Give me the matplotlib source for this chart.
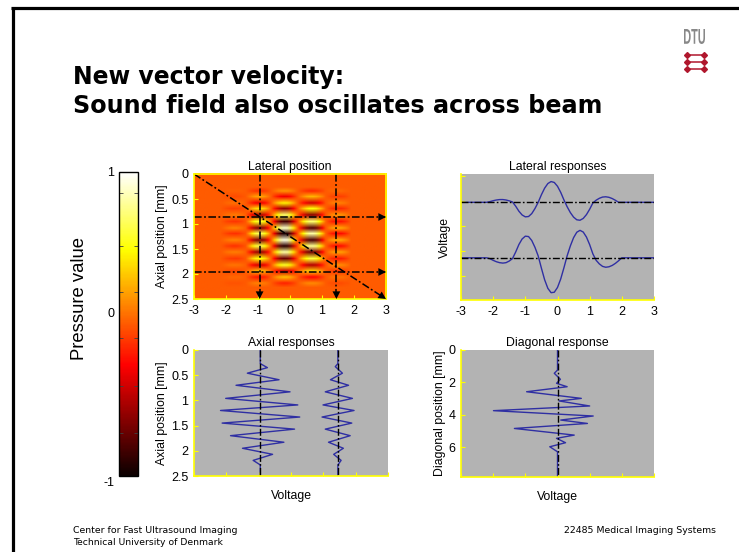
import numpy as np
import matplotlib
matplotlib.use("Agg")
import matplotlib.pyplot as plt
from matplotlib.lines import Line2D
from matplotlib.cm import ScalarMappable
from matplotlib.colors import Normalize
from matplotlib.image import NonUniformImage
from matplotlib.textpath import TextPath
from matplotlib.patches import PathPatch
from matplotlib.font_manager import FontProperties
from matplotlib.transforms import Affine2D

W, H, DPI = 739, 552, 100
plt.rcParams["font.family"] = ["Liberation Sans", "DejaVu Sans"]
plt.rcParams["axes.unicode_minus"] = False

# ---------------- data ----------------
lateral_x = np.round(np.arange(-3.0, 3.001, 0.1), 2)
lateral_top = [0, 0, 0, 0, 0, 0, 0, 0, 0,
               0.025, 0.058, 0.083, 0.098, 0.099, 0.083, 0.053, 0.013, -0.14, -0.321,
               -0.456, -0.524, -0.512, -0.406, -0.224, 0.0, 0.274, 0.51, 0.676, 0.748,
               0.715, 0.578, 0.358, 0.086, -0.161, -0.371, -0.534, -0.63, -0.646, -0.581,
               -0.443, -0.249, -0.023, 0.075, 0.144, 0.189, 0.199, 0.18, 0.136, 0.073, 0.0,
               0, 0, 0, 0, 0, 0, 0, 0, 0, 0, 0]
lateral_bottom = [0, 0, 0, 0, 0, 0, 0, 0, 0,
                  -0.032, -0.091, -0.141, -0.175, -0.19, -0.175, -0.116, -0.029, 0.209, 0.479,
                  0.679, 0.78, 0.766, 0.623, 0.376, 0.066, -0.374, -0.791, -1.1, -1.256,
                  -1.241, -1.068, -0.762, -0.358, 0.074, 0.43, 0.726, 0.922, 0.99, 0.928,
                  0.748, 0.474, 0.141, -0.088, -0.219, -0.308, -0.34, -0.323, -0.275, -0.2, -0.105,
                  0, 0, 0, 0, 0, 0, 0, 0, 0, 0, 0]
lateral_offsets = [1.0, -1.0]
lateral_yticks = [1.944, 1.047, 0.149, -0.749, -1.647]

axial_left_z = [0.0, 0.27, 0.35, 0.46, 0.59, 0.70, 0.83, 0.96, 1.09, 1.20, 1.33, 1.45,
                1.57, 1.70, 1.83, 1.95, 2.07, 2.19, 2.28, 2.5]
axial_left_v = [0, 0, 0.22, -0.40, 0.58, -0.75, 0.92, -1.07, 1.16, -1.23, 1.22, -1.18,
                1.06, -0.92, 0.73, -0.55, 0.38, -0.22, 0, 0]
axial_right_z = [0.0, 0.27, 0.33, 0.46, 0.59, 0.70, 0.83, 0.96, 1.09, 1.20, 1.33, 1.45,
                 1.57, 1.70, 1.83, 1.95, 2.07, 2.19, 2.28, 2.5]
axial_right_v = [0, 0, -0.08, 0.14, -0.23, 0.33, -0.39, 0.45, -0.46, 0.50, -0.49, 0.43,
                 -0.39, 0.38, -0.29, 0.17, -0.13, 0.10, 0, 0]

diag_s = [0.0, 1.24, 1.44, 1.81, 2.06, 2.27, 2.58, 2.99, 3.15, 3.46, 3.75, 4.08, 4.33,
          4.54, 4.85, 5.26, 5.46, 5.73, 5.98, 6.29, 7.85]
diag_v = [0, 0, -0.10, 0.09, -0.03, 0.30, -0.96, 0.74, 0.05, 1.00, -1.99, 1.11, 0.10,
          0.93, -1.34, 0.52, -0.03, 0.25, -0.24, 0, 0]

line_x = [-0.95, 1.45]          # lateral positions of the axial lines
line_z = [0.86, 1.96]           # depths of the lateral lines
diag_start, diag_end = (-3.0, 0.0), (3.0, 2.5)

x_ticks = [-3, -2, -1, 0, 1, 2, 3]
z_ticks = [0, 0.5, 1, 1.5, 2, 2.5]
z_tick_labels = ["0", "0.5", "1", "1.5", "2", "2.5"]
diag_ticks = [0, 2, 4, 6]

# ---------------- figure ----------------
fig = plt.figure(figsize=(W / DPI, H / DPI), dpi=DPI)
fig.patch.set_facecolor("white")


def ax_px(l, t, r, b):
    return fig.add_axes([l / W, 1 - b / H, (r - l) / W, (b - t) / H])


def fx(x):
    return x / W


def fy(y):
    return 1 - y / H


BLUE = "#2f2fa3"
GRAY = "#b3b3b3"
DASH = (0, (5, 1.6, 1.2, 1.6))
FS = 8.8


def style(ax, boxed=False):
    for s in ["left", "bottom"]:
        ax.spines[s].set_color("#ffff00")
        ax.spines[s].set_linewidth(1.2)
    for s in ["top", "right"]:
        if boxed:
            ax.spines[s].set_color("#ffff00")
            ax.spines[s].set_linewidth(1.2)
        else:
            ax.spines[s].set_visible(False)
    ax.tick_params(direction="in", color="#ffff00", length=3, width=0.8,
                   labelsize=9, pad=4)


def arrow(ax, p0, p1):
    ax.annotate("", xy=p1, xytext=p0,
                arrowprops=dict(arrowstyle="-|>,head_length=0.55,head_width=0.28",
                                color="k", lw=0, shrinkA=0, shrinkB=0,
                                mutation_scale=10),
                annotation_clip=False)


# --- pressure field image ---
ax1 = ax_px(194, 174, 386, 299)
prof_x = np.array(lateral_top) / np.max(np.abs(lateral_top))
prof_z = np.array(axial_left_v) / np.max(np.abs(axial_left_v))
field = 0.95 * np.outer(prof_z, prof_x)
im = NonUniformImage(ax1, interpolation="bilinear", cmap="hot", norm=Normalize(-1, 1),
                     extent=(-3, 3, 2.5, 0))
im.set_data(lateral_x, np.array(axial_left_z), field)
ax1.add_image(im)
ax1.set_xlim(-3, 3)
ax1.set_ylim(2.5, 0)
for xv in line_x:
    ax1.plot([xv, xv], [0, 2.5], color="k", lw=1.1, ls=DASH)
    arrow(ax1, (xv, 2.38), (xv, 2.5))
for zv in line_z:
    ax1.plot([-3, 3], [zv, zv], color="k", lw=1.1, ls=DASH)
    arrow(ax1, (2.75, zv), (3.0, zv))
ax1.plot([diag_start[0], diag_end[0]], [diag_start[1], diag_end[1]], color="k", lw=1.1, ls=DASH)
arrow(ax1, (diag_end[0] - 0.25, diag_end[1] - 0.25 * 2.5 / 6), diag_end)
ax1.set_xticks(x_ticks)
ax1.set_yticks(z_ticks)
ax1.set_yticklabels(z_tick_labels)
style(ax1, boxed=True)
ax1.set_title("Lateral position", fontsize=FS, pad=3)
ax1.set_ylabel("Axial position [mm]", fontsize=FS, labelpad=2)

# --- lateral responses ---
ax2 = ax_px(461, 174, 654, 300)
ax2.set_facecolor(GRAY)
for vals, off in zip([lateral_top, lateral_bottom], lateral_offsets):
    ax2.plot(lateral_x, np.array(vals) + off, color=BLUE, lw=1.0)
    ax2.plot([-3, 3], [off, off], color="k", lw=1.0, ls=DASH)
ax2.set_xlim(-3, 3)
ax2.set_ylim(-2.52, 2.02)
ax2.set_xticks(x_ticks)
ax2.set_yticks(lateral_yticks)
ax2.set_yticklabels([])
style(ax2)
ax2.set_title("Lateral responses", fontsize=FS, pad=3)
ax2.set_ylabel("Voltage", fontsize=FS, labelpad=3)

# --- axial responses ---
ax3 = ax_px(194, 350, 388, 476)
ax3.set_facecolor(GRAY)
for zz, vv, off in [(axial_left_z, axial_left_v, line_x[0]),
                    (axial_right_z, axial_right_v, line_x[1])]:
    ax3.plot(np.array(vv) + off, zz, color=BLUE, lw=1.0)
    ax3.plot([off, off], [0, 2.5], color="k", lw=1.0, ls=DASH)
ax3.set_xlim(-3, 3)
ax3.set_ylim(2.5, 0)
ax3.set_xticks(x_ticks)
ax3.set_xticklabels([])
ax3.set_yticks(z_ticks)
ax3.set_yticklabels(z_tick_labels)
style(ax3)
ax3.set_title("Axial responses", fontsize=FS, pad=3)
ax3.set_ylabel("Axial position [mm]", fontsize=FS, labelpad=2)
ax3.set_xlabel("Voltage", fontsize=FS, labelpad=6)

# --- diagonal response ---
ax4 = ax_px(461, 350, 654, 477)
ax4.set_facecolor(GRAY)
ax4.plot(diag_v, diag_s, color=BLUE, lw=1.0)
ax4.plot([0, 0], [0, 7.85], color="k", lw=1.0, ls=DASH)
ax4.set_xlim(-3, 3)
ax4.set_ylim(7.85, 0)
ax4.set_xticks(x_ticks)
ax4.set_xticklabels([])
ax4.set_yticks(diag_ticks)
style(ax4)
ax4.set_title("Diagonal response", fontsize=FS, pad=3)
ax4.set_ylabel("Diagonal position [mm]", fontsize=FS, labelpad=2)
ax4.set_xlabel("Voltage", fontsize=FS, labelpad=6)

# --- colorbar ---
cax = ax_px(119, 172, 138, 476)
sm = ScalarMappable(norm=Normalize(-1, 1), cmap="hot")
cb = fig.colorbar(sm, cax=cax)
cb.outline.set_linewidth(1.0)
cb.set_ticks([0.86, 0.51, 0.21, -0.09, -0.41, -0.72])
cax.tick_params(which="both", direction="in", length=3, width=0.6, color="#404040",
                left=True, right=True, labelright=False, labelleft=False)
for lab, yy in [("1", 173), ("0", 314), ("-1", 483)]:
    fig.text(fx(114), fy(yy), lab, ha="right", va="center", fontsize=9)
fig.text(fx(80), fy(298), "Pressure value", rotation=90, ha="center", va="center",
         fontsize=13.3)

# --- slide frame ---
fig.add_artist(Line2D([fx(12.5), fx(12.5)], [fy(7), fy(552)], color="k", lw=2.3,
                      transform=fig.transFigure, solid_capstyle="butt"))
fig.add_artist(Line2D([fx(11.4), fx(739)], [fy(8), fy(8)], color="k", lw=2.3,
                      transform=fig.transFigure, solid_capstyle="butt"))

renderer = fig.canvas.get_renderer()


def fit_text(x, y, s, target_w, ha="left", **kw):
    t = fig.text(fx(x), fy(y), s, ha=ha, va="baseline", fontsize=10, **kw)
    w = t.get_window_extent(renderer).width
    t.set_fontsize(10 * target_w / w)
    return t


fit_text(73, 84, "New vector velocity:", 272, family="DejaVu Sans", weight="bold")
fit_text(73, 113, "Sound field also oscillates across beam", 531, family="DejaVu Sans",
         weight="bold")
fit_text(73, 533, "Center for Fast Ultrasound Imaging", 164, family="DejaVu Sans")
fit_text(73, 545, "Technical University of Denmark", 150, family="DejaVu Sans")
fit_text(716, 533, "22485 Medical Imaging Systems", 153, ha="right", family="DejaVu Sans")

# --- DTU logo ---
tp = TextPath((0, 0), "DTU", size=20,
              prop=FontProperties(family="Liberation Sans", weight="bold"))
bb = tp.get_extents()
logo_t = (Affine2D().translate(-bb.x0, -bb.y0)
          .scale(21.0 / bb.width, 15.0 / bb.height)
          .translate(684, H - 44))
fig.add_artist(PathPatch(tp, transform=logo_t, facecolor="#888888", edgecolor="none"))
for yy in [55, 62, 69]:
    fig.add_artist(Line2D([fx(687), fx(704)], [fy(yy), fy(yy)], color="#b0172d", lw=1.1,
                          marker="D", markersize=3.0, transform=fig.transFigure))

fig.savefig("out.png", dpi=DPI, facecolor="white")
